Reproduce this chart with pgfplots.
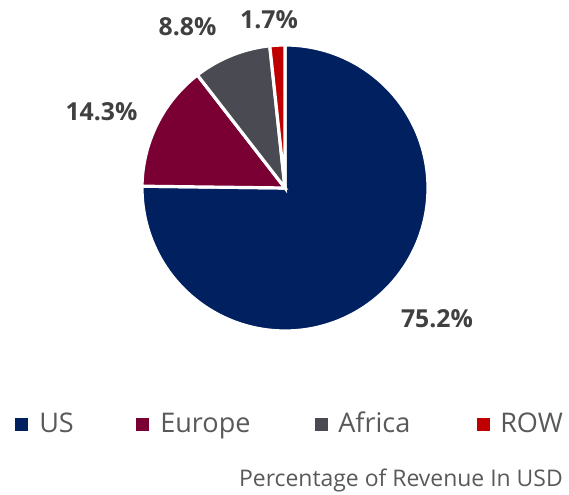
\documentclass[border=0pt]{standalone}
\usepackage{pgfplots}
\pgfplotsset{compat=1.18}
\usepackage{pgfplotstable}
\usepackage{fontspec}
\setmainfont{Open Sans}
\definecolor{usc}{RGB}{0,32,96}
\definecolor{euc}{RGB}{122,0,52}
\definecolor{afc}{RGB}{74,74,82}
\definecolor{rowc}{RGB}{192,0,0}
\definecolor{lbl}{RGB}{64,64,64}
\definecolor{leg}{RGB}{89,89,89}
\pgfplotstableread{
name value
US 75.2
Europe 14.3
Africa 8.8
ROW 1.7
}\datatable
\begin{document}
\begin{tikzpicture}
\begin{axis}[
  x=0.75pt, y=0.75pt,
  xmin=0, xmax=569, ymin=0, ymax=495,
  hide axis, clip=false,
]
\path (axis cs:0,0) rectangle (axis cs:569,495);
\pgfplotsextra{
  \gdef\cum{0}
  \foreach \i/\col in {0/usc,1/euc,2/afc,3/rowc}{
    \pgfplotstablegetelem{\i}{value}\of\datatable
    \let\myval\pgfplotsretval
    \pgfmathsetmacro{\angA}{90-3.6*\cum}
    \pgfmathsetmacro{\angB}{90-3.6*(\cum+\myval)}
    \fill[\col, draw=white, line width=2.4pt, line join=miter]
      (axis cs:285,307) -- ++(\angA:107.25pt)
      arc[start angle=\angA, end angle=\angB, radius=107.25pt] -- cycle;
    \pgfmathsetmacro{\newcum}{\cum+\myval}
    \global\let\cum\newcum
  }
}
% value labels
\begin{scope}[every node/.style={inner sep=0pt, text=lbl, font=\fontsize{18.6}{22}\selectfont\bfseries}]
\node[anchor=base] at (axis cs:437,167) {75.2\%};
\node[anchor=base] at (axis cs:101.5,374) {14.3\%};
\node[anchor=base] at (axis cs:187.5,459) {8.8\%};
\node[anchor=base] at (axis cs:269,466) {1.7\%};
\end{scope}
% legend
\begin{scope}[every node/.style={inner sep=0pt, text=leg, anchor=base west, font=\fontsize{20.3}{24}\selectfont}]
\fill[usc] (axis cs:15,64) rectangle (axis cs:28,77);
\node at (axis cs:39,62) {US};
\fill[euc] (axis cs:136,64) rectangle (axis cs:149,77);
\node at (axis cs:160,62) {Europe};
\fill[afc] (axis cs:315,64) rectangle (axis cs:328,77);
\node at (axis cs:338,62) {Africa};
\fill[rowc] (axis cs:477,64) rectangle (axis cs:490,77);
\node at (axis cs:500,62) {ROW};
\end{scope}
\node[inner sep=0pt, anchor=base east, text=leg, font=\fontsize{17.2}{20}\selectfont] at (axis cs:563,8) {Percentage of Revenue In USD};
\end{axis}
\end{tikzpicture}
\end{document}
